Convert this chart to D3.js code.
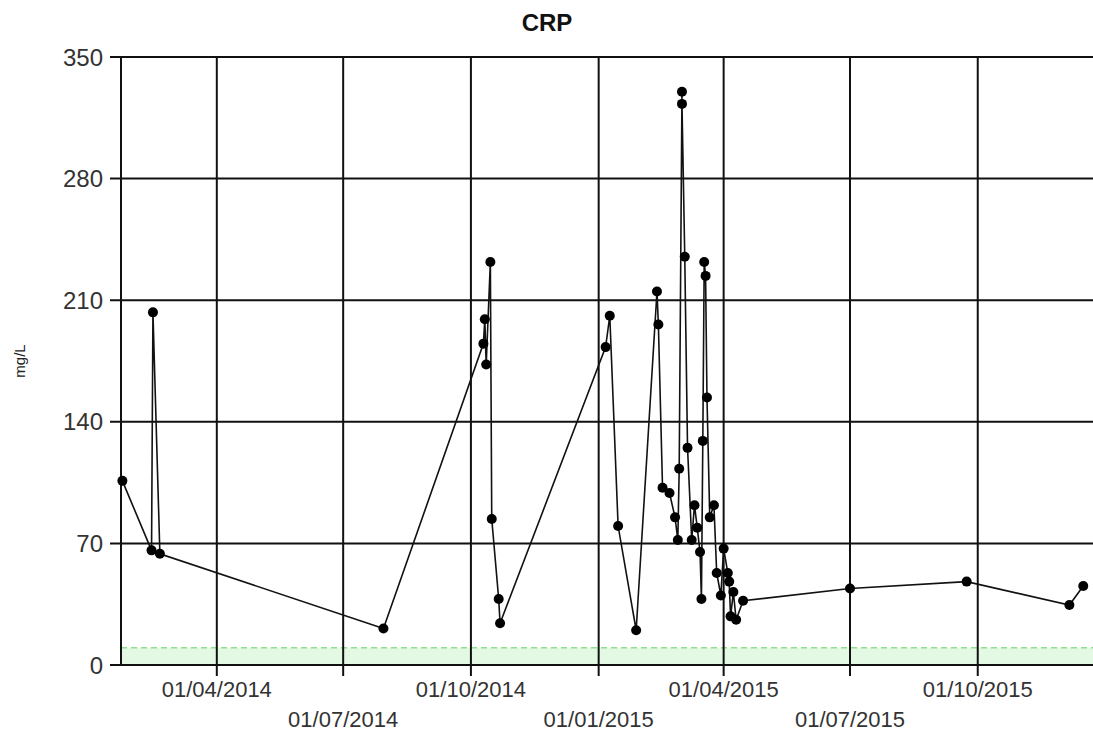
<!DOCTYPE html>
<html>
<head>
<meta charset="utf-8">
<script src="https://cdn.jsdelivr.net/npm/d3@7"></script>
<style>
    body { margin: 0; background: #fff; }
    svg { display: block; font-family: "Liberation Sans", Arial, sans-serif; }
</style>
</head>
<body>
<div id="chart"></div>
<script>
// CRP results
const dates = [
    "23/01/2014", "13/02/2014", "14/02/2014", "19/02/2014", "30/07/2014",
    "10/10/2014", "11/10/2014", "12/10/2014", "15/10/2014", "16/10/2014", "21/10/2014", "22/10/2014",
    "06/01/2015", "09/01/2015", "15/01/2015", "28/01/2015",
    "12/02/2015", "13/02/2015", "16/02/2015", "21/02/2015", "25/02/2015", "27/02/2015", "28/02/2015",
    "02/03/2015", "02/03/2015", "04/03/2015", "06/03/2015", "09/03/2015", "11/03/2015", "13/03/2015",
    "15/03/2015", "16/03/2015", "17/03/2015", "18/03/2015", "19/03/2015", "20/03/2015", "22/03/2015",
    "25/03/2015", "27/03/2015", "30/03/2015", "01/04/2015", "04/04/2015", "05/04/2015", "06/04/2015",
    "08/04/2015", "10/04/2015", "15/04/2015",
    "01/07/2015", "23/09/2015", "06/12/2015", "16/12/2015"
];
const values = [
    106, 66, 203, 64, 21,
    185, 199, 173, 232, 84, 38, 24,
    183, 201, 80, 20,
    215, 196, 102, 99, 85, 72, 113,
    330, 323, 235, 125, 72, 92, 79,
    65, 38, 129, 232, 224, 154, 85,
    92, 53, 40, 67, 53, 48, 28,
    42, 26, 37,
    44, 48, 34.5, 45.5
];
const yTicks = [0, 70, 140, 210, 280, 350];
const xTicks = ["01/04/2014", "01/07/2014", "01/10/2014", "01/01/2015", "01/04/2015", "01/07/2015", "01/10/2015"];
const xDomain = ["22/01/2014", "23/12/2015"];
const refRange = [0, 10]; // normal range band
const title = "CRP";
const unit = "mg/L";

const width = 1093, height = 731;
const margin = { top: 57, right: 0, bottom: 66, left: 121 };

const parse = d3.timeParse("%d/%m/%Y");
const data = dates.map((d, i) => ({ date: parse(d), value: values[i] }));

const x = d3.scaleTime()
    .domain(xDomain.map(parse))
    .range([margin.left, width - margin.right]);
const y = d3.scaleLinear()
    .domain([0, 350])
    .range([height - margin.bottom, margin.top]);

const svg = d3.select("#chart")
    .append("svg")
    .attr("width", width)
    .attr("height", height);

// reference range band
svg.append("rect")
    .attr("x", margin.left)
    .attr("y", y(refRange[1]))
    .attr("width", width - margin.left)
    .attr("height", y(refRange[0]) - y(refRange[1]))
    .attr("fill", "#e4f9e4");
svg.append("line")
    .attr("x1", margin.left)
    .attr("x2", width)
    .attr("y1", y(refRange[1]))
    .attr("y2", y(refRange[1]))
    .attr("stroke", "#8fdf8f")
    .attr("stroke-width", 1.5)
    .attr("stroke-dasharray", "6,4");

// horizontal grid + y labels
svg.append("g")
    .selectAll("line")
    .data(yTicks)
    .join("line")
    .attr("x1", margin.left - 11)
    .attr("x2", width)
    .attr("y1", d => y(d))
    .attr("y2", d => y(d))
    .attr("stroke", "#111")
    .attr("stroke-width", 2);

svg.append("g")
    .selectAll("text")
    .data(yTicks)
    .join("text")
    .attr("x", margin.left - 18)
    .attr("y", d => y(d))
    .attr("dy", "0.36em")
    .attr("text-anchor", "end")
    .attr("font-size", 24)
    .attr("fill", "#333")
    .text(d => d);

// vertical grid + x labels (two rows)
const xt = xTicks.map(parse);
svg.append("g")
    .selectAll("line")
    .data(xt)
    .join("line")
    .attr("x1", d => x(d))
    .attr("x2", d => x(d))
    .attr("y1", margin.top)
    .attr("y2", height - margin.bottom + 11)
    .attr("stroke", "#111")
    .attr("stroke-width", 2);

svg.append("g")
    .selectAll("text")
    .data(xt)
    .join("text")
    .attr("x", d => x(d))
    .attr("y", (d, i) => i % 2 == 0 ? 697 : 727)
    .attr("text-anchor", "middle")
    .attr("font-size", 22)
    .attr("fill", "#333")
    .text((d, i) => xTicks[i]);

// left axis
svg.append("line")
    .attr("x1", margin.left)
    .attr("x2", margin.left)
    .attr("y1", margin.top)
    .attr("y2", height - margin.bottom)
    .attr("stroke", "#111")
    .attr("stroke-width", 2);

// title and unit
svg.append("text")
    .attr("x", 547)
    .attr("y", 31)
    .attr("text-anchor", "middle")
    .attr("font-size", 24)
    .attr("font-weight", "bold")
    .attr("fill", "#111")
    .text(title);

svg.append("text")
    .attr("transform", "translate(25," + ((margin.top + height - margin.bottom) / 2) + ") rotate(-90)")
    .attr("text-anchor", "middle")
    .attr("font-size", 15)
    .attr("fill", "#222")
    .text(unit);

// the series
const line = d3.line()
    .x(d => x(d.date))
    .y(d => y(d.value));

svg.append("path")
    .datum(data)
    .attr("d", line)
    .attr("fill", "none")
    .attr("stroke", "#111")
    .attr("stroke-width", 1.6);

svg.append("g")
    .selectAll("circle")
    .data(data)
    .join("circle")
    .attr("cx", d => x(d.date))
    .attr("cy", d => y(d.value))
    .attr("r", 5)
    .attr("fill", "#000");
</script>
</body>
</html>
